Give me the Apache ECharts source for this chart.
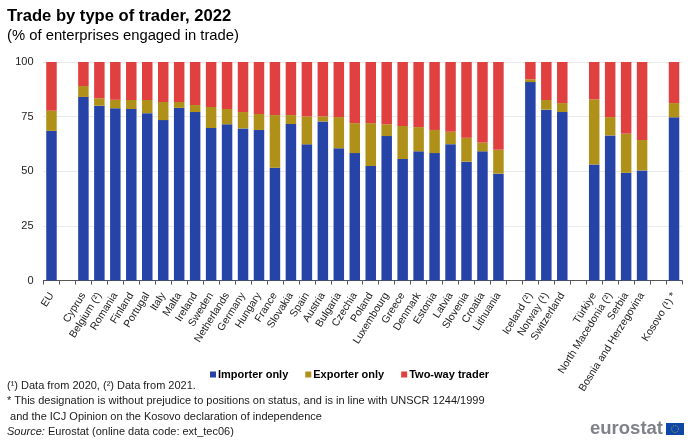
<!DOCTYPE html>
<html lang="en">

<head>
    <meta charset="UTF-8">
    <title>Trade by type of trader, 2022</title>
    <script src="https://cdn.jsdelivr.net/npm/echarts@6/dist/echarts.min.js"></script>
    <style>
        body { margin: 0; background: #fff; }
        #main { width: 700px; height: 443px; }
    </style>
</head>

<body>
    <div id="main"></div>
    <script>
        // empty names are the gaps between country groups
        var categories = ['EU', '', 'Cyprus', 'Belgium (²)', 'Romania', 'Finland', 'Portugal', 'Italy', 'Malta', 'Ireland',
            'Sweden', 'Netherlands', 'Germany', 'Hungary', 'France', 'Slovakia', 'Spain', 'Austria', 'Bulgaria', 'Czechia',
            'Poland', 'Luxembourg', 'Greece', 'Denmark', 'Estonia', 'Latvia', 'Slovenia', 'Croatia', 'Lithuania', ' ',
            'Iceland (²)', 'Norway (¹)', 'Switzerland', '  ', 'Türkiye', 'North Macedonia (²)', 'Serbia',
            'Bosnia and Herzegovina', '   ', 'Kosovo (¹) *'];
        var importerOnly = [68.5, null, 84, 80, 78.8, 78.5, 76.6, 73.4, 79, 77.1,
            69.8, 71.5, 69.6, 68.9, 51.6, 71.6, 62.3, 72.8, 60.5, 58.3,
            52.4, 66.1, 55.6, 59.1, 58.3, 62.4, 54.4, 59.1, 48.9, null,
            90.8, 78.2, 77.1, null, 53.1, 66.4, 49.3, 50.4, null, 74.7];
        var exporterOnly = [9.2, null, 5, 3.4, 3.9, 4.1, 6, 8.3, 2.7, 3.2,
            9.6, 7, 7.5, 7.3, 24.1, 4.1, 12.8, 2.3, 14.3, 13.7,
            19.6, 5.4, 15.1, 11.1, 10.6, 5.7, 10.9, 4, 10.9, null,
            1.3, 4.4, 4.1, null, 29.8, 8.4, 17.9, 13.9, null, 6.5];
        var twoWayTrader = [22.3, null, 11, 16.6, 17.3, 17.4, 17.4, 18.3, 18.3, 19.7,
            20.6, 21.5, 22.9, 23.8, 24.3, 24.3, 24.9, 24.9, 25.2, 28,
            28, 28.5, 29.3, 29.8, 31.1, 31.9, 34.7, 36.9, 40.2, null,
            7.9, 17.4, 18.8, null, 17.1, 25.2, 32.8, 35.7, null, 18.8];

        var font = '"Liberation Sans", Arial, sans-serif';

        function barSeries(name, values, color) {
            return {
                name: name,
                type: 'bar',
                stack: 'total',
                barWidth: 10.5,
                data: values,
                itemStyle: { color: color }
            };
        }

        function note(y, text) {
            return {
                type: 'text', left: 7, top: y,
                style: {
                    text: text, fill: '#1a1a1a', font: '11px ' + font,
                    rich: {
                        i: { fontStyle: 'italic', fontSize: 11, fontFamily: font, fill: '#1a1a1a' }
                    }
                }
            };
        }

        var chart = echarts.init(document.getElementById('main'));
        chart.setOption({
            animation: false,
            backgroundColor: '#fff',
            textStyle: { fontFamily: font },
            title: {
                text: 'Trade by type of trader, 2022',
                subtext: '(% of enterprises engaged in trade)',
                left: 7, top: 8, padding: 0, itemGap: 3,
                textStyle: { fontSize: 16.6, fontWeight: 'bold', color: '#000', fontFamily: font },
                subtextStyle: { fontSize: 14.8, color: '#000', fontFamily: font }
            },
            legend: {
                left: 210, top: 369, padding: 0, itemWidth: 6, itemHeight: 6, itemGap: 17,
                icon: 'rect', selectedMode: false,
                textStyle: { fontSize: 11, fontWeight: 'bold', color: '#000', fontFamily: font, padding: [0, 0, 0, -3] }
            },
            grid: { left: 43.5, right: 18, top: 62, bottom: 162.5 },
            xAxis: {
                type: 'category',
                data: categories,
                axisTick: { show: true, interval: 0, length: 4, lineStyle: { color: '#555', width: 1 }, alignWithLabel: false },
                axisLine: { lineStyle: { color: '#555' } },
                axisLabel: { interval: 0, rotate: 58, fontSize: 10.5, color: '#222', margin: 13, fontFamily: font }
            },
            yAxis: {
                type: 'value', min: 0, max: 100, interval: 25,
                axisLine: { show: false },
                axisTick: { show: false },
                axisLabel: { fontSize: 11, color: '#222', margin: 10, fontFamily: font },
                splitLine: { lineStyle: { color: '#d4d4d4', type: 'dotted' } }
            },
            series: [
                barSeries('Importer only', importerOnly, '#2644A7'),
                barSeries('Exporter only', exporterOnly, '#AF9119'),
                barSeries('Two-way trader', twoWayTrader, '#E04040')
            ],
            graphic: [
                note(380, '(¹) Data from 2020, (²) Data from 2021.'),
                note(395.5, '* This designation is without prejudice to positions on status, and is in line with UNSCR 1244/1999'),
                note(411, ' and the ICJ Opinion on the Kosovo declaration of independence'),
                note(426.5, '{i|Source:} Eurostat (online data code: ext_tec06)'),
                {
                    type: 'text', left: 590, top: 419,
                    style: { text: 'eurostat', fill: '#7f8288', font: 'bold 18.5px ' + font }
                },
                {
                    type: 'rect', shape: { x: 666, y: 423, width: 18, height: 12 },
                    style: { fill: '#0e47a8' }
                },
                {
                    type: 'circle', shape: { cx: 675, cy: 429, r: 3.5 },
                    style: { fill: 'none', stroke: '#c9b52e', lineWidth: 0.8, lineDash: [1, 1] }
                }
            ]
        });
    </script>
</body>

</html>
